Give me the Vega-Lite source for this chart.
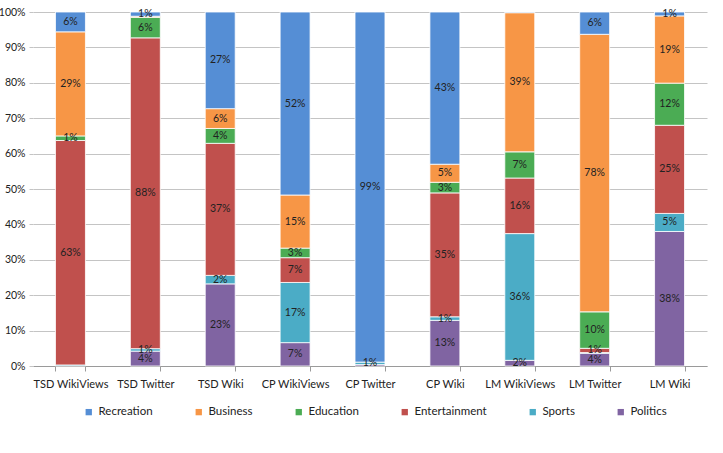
{
  "$schema": "https://vega.github.io/schema/vega-lite/v6.json",
  "autosize": "none",
  "width": 674,
  "height": 354,
  "padding": {"left": 33, "top": 12, "right": 16, "bottom": 87},
  "background": "white",
  "config": {
    "view": {"stroke": null},
    "font": "Lato",
    "axis": {"labelFont": "Lato", "labelColor": "#222", "labelFontSize": 11},
    "axisY": {
      "title": null,
      "format": ".0%",
      "values": [0, 0.1, 0.2, 0.3, 0.4, 0.5, 0.6, 0.7, 0.8, 0.9, 1],
      "labelOverlap": false,
      "labelFontSize": 10.5,
      "domain": false,
      "grid": true,
      "gridColor": "#c4c4c4",
      "tickColor": "#c4c4c4",
      "tickSize": 4,
      "labelPadding": 4
    },
    "legend": {"labelFont": "Lato", "labelColor": "#222"}
  },
  "data": {
    "values": [
      {"source": "TSD WikiViews", "topic": "Sports", "share": 0.003},
      {"source": "TSD WikiViews", "topic": "Entertainment", "share": 0.634},
      {"source": "TSD WikiViews", "topic": "Education", "share": 0.013},
      {"source": "TSD WikiViews", "topic": "Business", "share": 0.294},
      {"source": "TSD WikiViews", "topic": "Recreation", "share": 0.056},
      {"source": "TSD Twitter", "topic": "Politics", "share": 0.042},
      {"source": "TSD Twitter", "topic": "Sports", "share": 0.007},
      {"source": "TSD Twitter", "topic": "Entertainment", "share": 0.878},
      {"source": "TSD Twitter", "topic": "Education", "share": 0.058},
      {"source": "TSD Twitter", "topic": "Business", "share": 0.003},
      {"source": "TSD Twitter", "topic": "Recreation", "share": 0.012},
      {"source": "TSD Wiki", "topic": "Politics", "share": 0.232},
      {"source": "TSD Wiki", "topic": "Sports", "share": 0.024},
      {"source": "TSD Wiki", "topic": "Entertainment", "share": 0.373},
      {"source": "TSD Wiki", "topic": "Education", "share": 0.042},
      {"source": "TSD Wiki", "topic": "Business", "share": 0.056},
      {"source": "TSD Wiki", "topic": "Recreation", "share": 0.273},
      {"source": "CP WikiViews", "topic": "Politics", "share": 0.066},
      {"source": "CP WikiViews", "topic": "Sports", "share": 0.170},
      {"source": "CP WikiViews", "topic": "Entertainment", "share": 0.070},
      {"source": "CP WikiViews", "topic": "Education", "share": 0.027},
      {"source": "CP WikiViews", "topic": "Business", "share": 0.150},
      {"source": "CP WikiViews", "topic": "Recreation", "share": 0.517},
      {"source": "CP Twitter", "topic": "Politics", "share": 0.004},
      {"source": "CP Twitter", "topic": "Sports", "share": 0.007},
      {"source": "CP Twitter", "topic": "Recreation", "share": 0.989},
      {"source": "CP Wiki", "topic": "Politics", "share": 0.129},
      {"source": "CP Wiki", "topic": "Sports", "share": 0.010},
      {"source": "CP Wiki", "topic": "Entertainment", "share": 0.350},
      {"source": "CP Wiki", "topic": "Education", "share": 0.030},
      {"source": "CP Wiki", "topic": "Business", "share": 0.051},
      {"source": "CP Wiki", "topic": "Recreation", "share": 0.430},
      {"source": "LM WikiViews", "topic": "Politics", "share": 0.016},
      {"source": "LM WikiViews", "topic": "Sports", "share": 0.358},
      {"source": "LM WikiViews", "topic": "Entertainment", "share": 0.157},
      {"source": "LM WikiViews", "topic": "Education", "share": 0.074},
      {"source": "LM WikiViews", "topic": "Business", "share": 0.393},
      {"source": "LM WikiViews", "topic": "Recreation", "share": 0.002},
      {"source": "LM Twitter", "topic": "Politics", "share": 0.036},
      {"source": "LM Twitter", "topic": "Sports", "share": 0.002},
      {"source": "LM Twitter", "topic": "Entertainment", "share": 0.012},
      {"source": "LM Twitter", "topic": "Education", "share": 0.103},
      {"source": "LM Twitter", "topic": "Business", "share": 0.784},
      {"source": "LM Twitter", "topic": "Recreation", "share": 0.063},
      {"source": "LM Wiki", "topic": "Politics", "share": 0.380},
      {"source": "LM Wiki", "topic": "Sports", "share": 0.051},
      {"source": "LM Wiki", "topic": "Entertainment", "share": 0.249},
      {"source": "LM Wiki", "topic": "Education", "share": 0.119},
      {"source": "LM Wiki", "topic": "Business", "share": 0.190},
      {"source": "LM Wiki", "topic": "Recreation", "share": 0.011}
    ]
  },
  "transform": [
    {"calculate": "indexof(['Politics','Sports','Entertainment','Education','Business','Recreation'], datum.topic)", "as": "stackOrder"},
    {"stack": "share", "groupby": ["source"], "sort": [{"field": "stackOrder", "order": "ascending"}], "as": ["y0", "y1"]},
    {"calculate": "(datum.y0 + datum.y1) / 2", "as": "mid"}
  ],
  "encoding": {
    "x": {
      "field": "source",
      "type": "nominal",
      "sort": ["TSD WikiViews", "TSD Twitter", "TSD Wiki", "CP WikiViews", "CP Twitter", "CP Wiki", "LM WikiViews", "LM Twitter", "LM Wiki"],
      "scale": {"paddingInner": 0.6, "paddingOuter": 0.3},
      "axis": {
        "title": null,
        "labelAngle": 0,
        "tickBand": "extent",
        "domainColor": "#9a9a9a",
        "tickColor": "#9a9a9a",
        "tickSize": 5,
        "labelPadding": 7,
        "grid": false
      }
    }
  },
  "layer": [
    {
      "mark": {"type": "bar", "stroke": "#ffffff", "strokeWidth": 1, "strokeOpacity": 0.8},
      "encoding": {
        "y": {
          "field": "y0",
          "type": "quantitative",
          "scale": {"domain": [0, 1], "nice": false},
          "title": null
        },
        "y2": {"field": "y1"},
        "color": {
          "field": "topic",
          "type": "nominal",
          "scale": {
            "domain": ["Recreation", "Business", "Education", "Entertainment", "Sports", "Politics"],
            "range": ["#558ed5", "#f79646", "#4bac54", "#c0504d", "#4bacc6", "#8064a2"]
          },
          "legend": {
            "title": null,
            "orient": "none",
            "direction": "horizontal",
            "legendX": 50,
            "legendY": 394,
            "symbolType": "square",
            "symbolSize": 40,
            "symbolStrokeWidth": 0,
            "labelFontSize": 11.5,
            "labelOffset": 4,
            "columnPadding": 40
          }
        }
      }
    },
    {
      "transform": [{"filter": "datum.share >= 0.005"}],
      "mark": {"type": "text", "fontSize": 10.5, "color": "#222", "baseline": "middle"},
      "encoding": {
        "y": {"field": "mid", "type": "quantitative", "title": null},
        "text": {"field": "share", "type": "quantitative", "format": ".0%"}
      }
    }
  ]
}
